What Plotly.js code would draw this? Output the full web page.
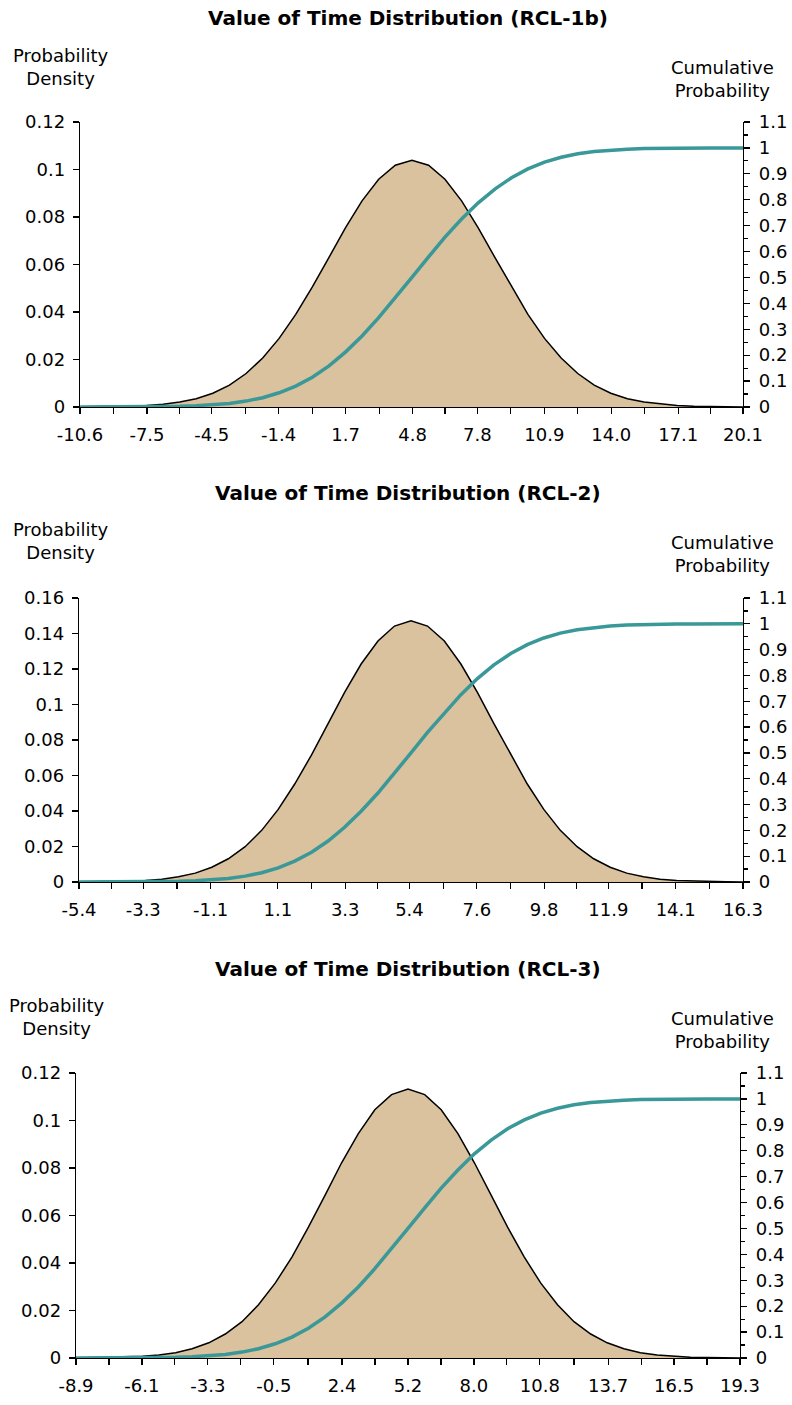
<!DOCTYPE html>
<html>
<head>
<meta charset="utf-8">
<script src="https://cdn.plot.ly/plotly-3.0.1.min.js"></script>
<style>html,body{margin:0;padding:0;background:#fff;}#chart{width:792px;height:1405px;}</style>
</head>
<body>
<div id="chart"></div>
<script>
// ---------- Panel 1 (RCL-1b) ----------
const title1 = "Value of Time Distribution (RCL-1b)";
const xLabels1 = ["-10.6","-7.5","-4.5","-1.4","1.7","4.8","7.8","10.9","14.0","17.1","20.1"];
const x1 = [-10.59,-9.82,-9.05,-8.29,-7.52,-6.75,-5.98,-5.22,-4.45,-3.68,-2.91,-2.14,-1.38,-0.61,0.16,0.93,1.69,2.46,3.23,4.00,4.77,5.54,6.30,7.07,7.84,8.61,9.38,10.14,10.91,11.68,12.45,13.21,13.98,14.75,15.52,16.29,17.05,17.82,18.59,19.36,20.13];
const density1 = [0.0000,0.0001,0.0002,0.0003,0.0006,0.0012,0.0021,0.0035,0.0058,0.0092,0.0141,0.0206,0.0289,0.0390,0.0506,0.0630,0.0754,0.0868,0.0959,0.1018,0.1039,0.1018,0.0959,0.0868,0.0754,0.0630,0.0506,0.0390,0.0289,0.0206,0.0141,0.0092,0.0058,0.0035,0.0021,0.0012,0.0006,0.0003,0.0002,0.0001,0.0000];
const cumulative1 = [0.0000,0.0001,0.0002,0.0003,0.0007,0.0013,0.0026,0.0047,0.0082,0.0139,0.0228,0.0359,0.0548,0.0808,0.1151,0.1587,0.2119,0.2743,0.3446,0.4207,0.5000,0.5793,0.6554,0.7257,0.7881,0.8413,0.8849,0.9192,0.9452,0.9641,0.9772,0.9861,0.9918,0.9953,0.9974,0.9987,0.9993,0.9997,0.9998,0.9999,1.0000];

// ---------- Panel 2 (RCL-2) ----------
const title2 = "Value of Time Distribution (RCL-2)";
const xLabels2 = ["-5.4","-3.3","-1.1","1.1","3.3","5.4","7.6","9.8","11.9","14.1","16.3"];
const x2 = [-5.40,-4.86,-4.32,-3.77,-3.23,-2.69,-2.15,-1.60,-1.06,-0.52,0.03,0.57,1.11,1.65,2.20,2.74,3.28,3.82,4.37,4.91,5.45,5.99,6.54,7.08,7.62,8.16,8.71,9.25,9.79,10.33,10.88,11.42,11.96,12.50,13.05,13.59,14.13,14.67,15.22,15.76,16.30];
const density2 = [0.0000,0.0001,0.0002,0.0005,0.0009,0.0016,0.0029,0.0050,0.0083,0.0131,0.0199,0.0291,0.0409,0.0552,0.0716,0.0892,0.1068,0.1228,0.1358,0.1442,0.1471,0.1442,0.1358,0.1228,0.1068,0.0892,0.0716,0.0552,0.0409,0.0291,0.0199,0.0131,0.0083,0.0050,0.0029,0.0016,0.0009,0.0005,0.0002,0.0001,0.0000];
const cumulative2 = [0.0000,0.0001,0.0002,0.0003,0.0007,0.0013,0.0026,0.0047,0.0082,0.0139,0.0228,0.0359,0.0548,0.0808,0.1151,0.1587,0.2119,0.2743,0.3446,0.4207,0.5000,0.5793,0.6554,0.7257,0.7881,0.8413,0.8849,0.9192,0.9452,0.9641,0.9772,0.9861,0.9918,0.9953,0.9974,0.9987,0.9993,0.9997,0.9998,0.9999,1.0000];

// ---------- Panel 3 (RCL-3) ----------
const title3 = "Value of Time Distribution (RCL-3)";
const xLabels3 = ["-8.9","-6.1","-3.3","-0.5","2.4","5.2","8.0","10.8","13.7","16.5","19.3"];
const x3 = [-8.90,-8.20,-7.49,-6.79,-6.08,-5.38,-4.67,-3.97,-3.26,-2.56,-1.85,-1.15,-0.44,0.27,0.97,1.68,2.38,3.09,3.79,4.50,5.20,5.91,6.61,7.32,8.02,8.73,9.43,10.14,10.84,11.55,12.25,12.96,13.66,14.37,15.07,15.78,16.48,17.19,17.89,18.60,19.30];
const density3 = [0.0000,0.0001,0.0002,0.0003,0.0007,0.0013,0.0022,0.0039,0.0064,0.0101,0.0153,0.0224,0.0315,0.0425,0.0551,0.0686,0.0822,0.0945,0.1045,0.1109,0.1132,0.1109,0.1045,0.0945,0.0822,0.0686,0.0551,0.0425,0.0315,0.0224,0.0153,0.0101,0.0064,0.0039,0.0022,0.0013,0.0007,0.0003,0.0002,0.0001,0.0000];
const cumulative3 = [0.0000,0.0001,0.0002,0.0003,0.0007,0.0013,0.0026,0.0047,0.0082,0.0139,0.0228,0.0359,0.0548,0.0808,0.1151,0.1587,0.2119,0.2743,0.3446,0.4207,0.5000,0.5793,0.6554,0.7257,0.7881,0.8413,0.8849,0.9192,0.9452,0.9641,0.9772,0.9861,0.9918,0.9953,0.9974,0.9987,0.9993,0.9997,0.9998,0.9999,1.0000];

const leftTitle = "Probability<br>Density";
const rightTitle = "Cumulative<br>Probability";

// ---------- styling ----------
const W = 792, H = 1405;
const FONT = "DejaVu Sans, Verdana, sans-serif";
const FILL = "#D9C29D";
const TEAL = "#3A9898";
const TICKFONT = {family: FONT, size: 18, color: "#000"};

// panel geometry in pixels
const panels = [
  {title: title1, labels: xLabels1, x: x1, d: density1, c: cumulative1, dmax: 0.12, ddt: 0.02,
   left: 80, right: 743, top: 122, bottom: 407, titleY: 18, ltX: 60, ltY: 67, rtX: 722, rtY: 79},
  {title: title2, labels: xLabels2, x: x2, d: density2, c: cumulative2, dmax: 0.16, ddt: 0.02,
   left: 79, right: 743, top: 598, bottom: 882, titleY: 493, ltX: 60, ltY: 541, rtX: 722, rtY: 554},
  {title: title3, labels: xLabels3, x: x3, d: density3, c: cumulative3, dmax: 0.12, ddt: 0.02,
   left: 76, right: 740, top: 1073, bottom: 1358, titleY: 969, ltX: 56, ltY: 1017, rtX: 722, rtY: 1030}
];

const px = v => v / W;
const py = v => 1 - v / H;

const data = [];
const layout = {
  width: W, height: H, autosize: false,
  margin: {l: 0, r: 0, t: 0, b: 0},
  paper_bgcolor: "#fff", plot_bgcolor: "#fff",
  showlegend: false,
  font: {family: FONT, color: "#000"},
  annotations: []
};

panels.forEach((p, i) => {
  const n = i + 1;
  const xa = "x" + (n === 1 ? "" : n);
  const yaL = "y" + (2 * n - 1 === 1 ? "" : (2 * n - 1));
  const yaR = "y" + (2 * n);
  const xKey = "xaxis" + (n === 1 ? "" : n);
  const yLKey = "yaxis" + (2 * n - 1 === 1 ? "" : (2 * n - 1));
  const yRKey = "yaxis" + (2 * n);

  // tick positions: label values plus midpoints
  const lv = p.labels.map(Number);
  const tv = [], tt = [];
  lv.forEach((v, k) => {
    tv.push(v); tt.push(p.labels[k]);
    if (k < lv.length - 1) { tv.push((v + lv[k + 1]) / 2); tt.push(""); }
  });

  data.push({
    type: "scatter", mode: "lines", x: p.x, y: p.d, xaxis: xa, yaxis: yaL,
    fill: "tozeroy", fillcolor: FILL, line: {color: "#000", width: 1.5}, hoverinfo: "skip"
  });
  data.push({
    type: "scatter", mode: "lines", x: p.x, y: p.c, xaxis: xa, yaxis: yaR,
    line: {color: TEAL, width: 3.5}, hoverinfo: "skip"
  });

  layout[xKey] = {
    domain: [px(p.left), px(p.right)], anchor: yaL,
    range: [lv[0], lv[lv.length - 1]],
    tickmode: "array", tickvals: tv, ticktext: tt,
    ticks: "outside", ticklen: 6, tickwidth: 1.2, tickcolor: "#000",
    ticklabelstandoff: 5,
    showline: true, linecolor: "#000", linewidth: 1.2,
    showgrid: false, zeroline: false, tickfont: TICKFONT, fixedrange: true
  };
  layout[yLKey] = {
    domain: [py(p.bottom), py(p.top)], anchor: xa,
    range: [0, p.dmax], dtick: p.ddt, tick0: 0,
    ticks: "outside", ticklen: 6, tickwidth: 1.2, tickcolor: "#000",
    ticklabelstandoff: 4,
    showline: true, linecolor: "#000", linewidth: 1.2,
    showgrid: false, zeroline: false, tickfont: TICKFONT, fixedrange: true
  };
  layout[yRKey] = {
    domain: [py(p.bottom), py(p.top)], anchor: xa, overlaying: yaL, side: "right",
    range: [0, 1.1], dtick: 0.1, tick0: 0,
    ticks: "outside", ticklen: 6, tickwidth: 1.2, tickcolor: "#000",
    ticklabelstandoff: 5,
    minor: {dtick: 0.05, ticks: "outside", ticklen: 4, tickwidth: 1.2, tickcolor: "#000"},
    showline: true, linecolor: "#000", linewidth: 1.2,
    showgrid: false, zeroline: false, tickfont: TICKFONT, fixedrange: true
  };

  layout.annotations.push({
    text: "<b>" + p.title + "</b>", xref: "paper", yref: "paper",
    x: px(408), y: py(p.titleY), xanchor: "center", yanchor: "middle",
    showarrow: false, font: {family: FONT, size: 20, color: "#000"}
  });
  layout.annotations.push({
    text: leftTitle, xref: "paper", yref: "paper",
    x: px(p.ltX), y: py(p.ltY), xanchor: "center", yanchor: "middle",
    showarrow: false, font: {family: FONT, size: 18, color: "#000"}
  });
  layout.annotations.push({
    text: rightTitle, xref: "paper", yref: "paper",
    x: px(p.rtX), y: py(p.rtY), xanchor: "center", yanchor: "middle",
    showarrow: false, font: {family: FONT, size: 18, color: "#000"}
  });
});

Plotly.newPlot("chart", data, layout, {staticPlot: true, displayModeBar: false});
</script>
</body>
</html>
